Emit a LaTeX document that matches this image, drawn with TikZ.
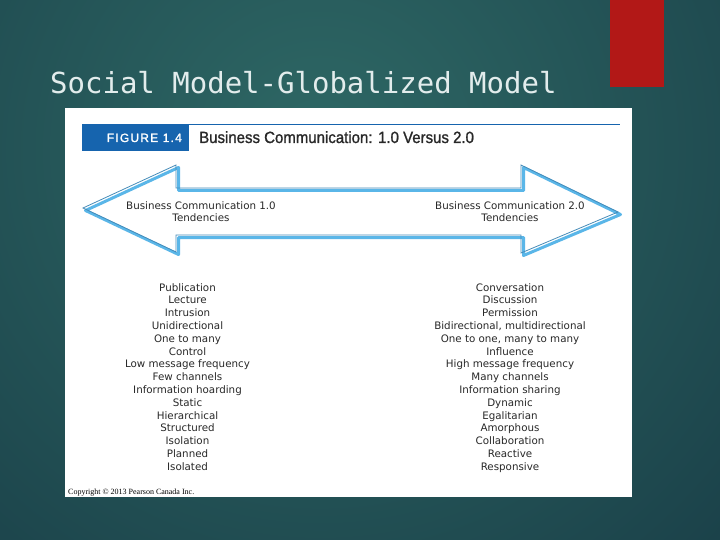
\documentclass[tikz,border=0pt]{standalone}
\usepackage{fontspec}
\setmainfont{DejaVu Sans}
\newfontfamily\titlemono{DejaVu Sans Mono}
\newfontfamily\headfont[FakeStretch=0.92,FakeBold=1.2]{Liberation Sans}
\newfontfamily\figfont[LetterSpace=10,FakeBold=1.5]{Liberation Sans}
\newfontfamily\copyfont{Liberation Serif}
\definecolor{bgdark}{RGB}{20,52,64}
\definecolor{bglight}{RGB}{46,104,101}
\definecolor{slidered}{RGB}{178,24,23}
\definecolor{figblue}{RGB}{22,100,174}
\definecolor{arrowline}{RGB}{70,140,185}
\definecolor{arrowshadow}{RGB}{90,182,232}
\definecolor{txtgray}{RGB}{40,40,40}
\tikzset{
  listtext/.style={font=\fontsize{10.3}{12}\selectfont, text=txtgray, inner sep=0pt, anchor=base},
  arrowlabel/.style={font=\fontsize{10.3}{12}\selectfont, text=txtgray, inner sep=0pt, align=center, anchor=base},
}
\begin{document}
\begin{tikzpicture}[x=1pt,y=-1pt]
\useasboundingbox (0,0) rectangle (720,540);
% background
\fill[bgdark] (0,0) rectangle (720,540);
\begin{scope}
\clip (0,0) rectangle (720,540);
\shade[inner color=bglight, outer color=bgdark] (320,150) circle (760);
\end{scope}
% red bar
\fill[slidered] (610,0) rectangle (664,87);
% title
\node[font=\titlemono\fontsize{29}{32}\selectfont, text={rgb,255:red,226;green,236;blue,236}, anchor=base west, inner sep=0pt] (title) at (50,94) {Social Model-Globalized Model};
% white panel
\fill[white] (65,108) rectangle (632,497);
% figure header
\fill[figblue] (82,124) rectangle (189,151);
\draw[figblue, line width=1.5pt] (189,124.75) -- (620,124.75);
\node[font=\figfont\fontsize{12}{14}\selectfont, text=white, inner sep=0pt, anchor=base east] (figlabel) at (182,142) {FIGURE 1.4};
\node[font=\headfont\fontsize{16.3}{18}\selectfont, text=txtgray, inner sep=0pt, anchor=base west] (figtitle) at (199,143) {Business Communication: 1.0 Versus 2.0};
% double arrow
\def\arrowpath{(83,208) -- (176,165) -- (176,188) -- (521,188) -- (521,165) -- (618,212) -- (521,253) -- (521,235) -- (176,235) -- (176,252) -- cycle}
\begin{scope}[shift={(2.5,2.5)}]
\draw[arrowshadow, line width=3pt, line join=round] \arrowpath;
\end{scope}
\draw[arrowline, line width=0.8pt, line join=miter] \arrowpath;
\node[arrowlabel] (lab1) at (201,221.5) {Business Communication 1.0\\Tendencies};
\node[arrowlabel] (lab2) at (510,221.5) {Business Communication 2.0\\Tendencies};
% lists
\foreach [count=\i] \t in {{Publication},{Lecture},{Intrusion},{Unidirectional},{One to many},{Control},{Low message frequency},{Few channels},{Information hoarding},{Static},{Hierarchical},{Structured},{Isolation},{Planned},{Isolated}}
  \node[listtext] (l\i) at (187.5,{291+12.8*(\i-1)}) {\t};
\foreach [count=\i] \t in {{Conversation},{Discussion},{Permission},{Bidirectional, multidirectional},{One to one, many to many},{Influence},{High message frequency},{Many channels},{Information sharing},{Dynamic},{Egalitarian},{Amorphous},{Collaboration},{Reactive},{Responsive}}
  \node[listtext] (r\i) at (510,{291+12.8*(\i-1)}) {\t};
% copyright
\node[font=\copyfont\fontsize{8}{9}\selectfont, text=black, inner sep=0pt, anchor=base west] (copy) at (68,494) {Copyright \textcopyright{} 2013 Pearson Canada Inc.};
\end{tikzpicture}
\end{document}
